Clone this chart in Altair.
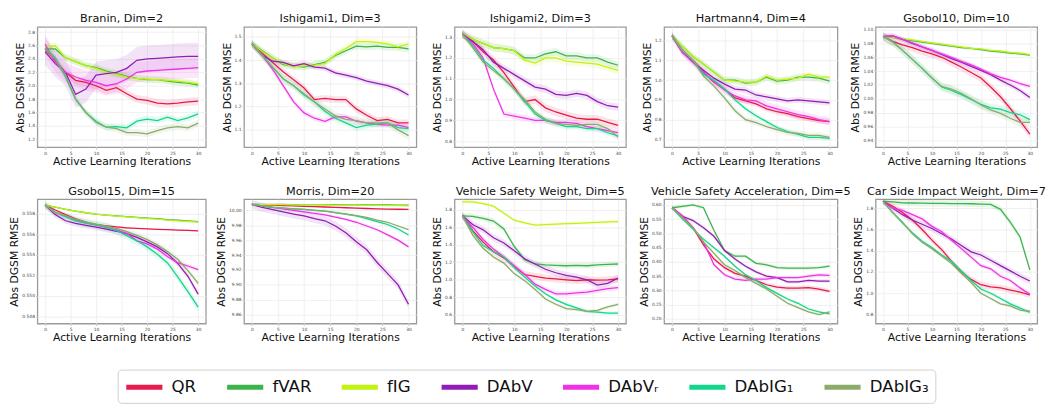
import altair as alt
import pandas as pd

METHODS = ["QR", "fVAR", "fIG", "DAbV", "DAbVᵣ", "DAbIG₁", "DAbIG₃"]
COLORS = ["#e8194b", "#3cb44b", "#c2f20f", "#911eb4", "#f032e6", "#12d68a", "#8aab6a"]
ITERS = list(range(0, 31, 2))
X_TICKS = [0, 5, 10, 15, 20, 25, 30]

# ---- Branin, Dim=2 ----
branin_qr = [2.55, 2.38, 2.2, 2.08, 2.05, 2.0, 1.93, 1.97, 1.88, 1.8, 1.78, 1.74, 1.73, 1.74, 1.76, 1.77]
branin_fvar = [2.55, 2.55, 2.42, 2.36, 2.3, 2.27, 2.22, 2.18, 2.14, 2.11, 2.09, 2.09, 2.07, 2.05, 2.04, 2.01]
branin_fig = [2.58, 2.6, 2.42, 2.36, 2.3, 2.26, 2.2, 2.17, 2.13, 2.11, 2.1, 2.09, 2.08, 2.07, 2.05, 2.03]
branin_dabv = [2.51, 2.33, 2.2, 1.87, 1.95, 2.16, 2.18, 2.2, 2.26, 2.38, 2.4, 2.41, 2.42, 2.43, 2.44, 2.44]
branin_dabvr = [2.62, 2.35, 2.2, 2.13, 2.08, 2.05, 2.0, 2.03, 2.1, 2.2, 2.22, 2.23, 2.24, 2.25, 2.26, 2.27]
branin_dabig1 = [2.56, 2.42, 2.15, 1.8, 1.6, 1.47, 1.38, 1.39, 1.37, 1.47, 1.5, 1.48, 1.53, 1.48, 1.52, 1.58]
branin_dabig3 = [2.56, 2.4, 2.13, 1.8, 1.6, 1.45, 1.38, 1.36, 1.3, 1.3, 1.28, 1.33, 1.37, 1.39, 1.37, 1.44]
branin_sd = [0.06, 0.05, 0.05, 0.2, 0.15, 0.05, 0.05]

# ---- Ishigami1, Dim=3 ----
ishi1_qr = [1.47, 1.43, 1.39, 1.35, 1.315, 1.28, 1.23, 1.235, 1.23, 1.23, 1.19, 1.163, 1.14, 1.145, 1.13, 1.13]
ishi1_fvar = [1.47, 1.44, 1.41, 1.38, 1.375, 1.37, 1.38, 1.39, 1.42, 1.44, 1.46, 1.457, 1.46, 1.455, 1.455, 1.448]
ishi1_fig = [1.47, 1.437, 1.41, 1.385, 1.372, 1.375, 1.378, 1.385, 1.424, 1.45, 1.479, 1.479, 1.476, 1.47, 1.457, 1.47]
ishi1_dabv = [1.47, 1.42, 1.395, 1.39, 1.375, 1.385, 1.37, 1.365, 1.345, 1.335, 1.325, 1.31, 1.3, 1.29, 1.275, 1.25]
ishi1_dabvr = [1.47, 1.42, 1.36, 1.29, 1.22, 1.173, 1.15, 1.137, 1.156, 1.156, 1.137, 1.13, 1.124, 1.12, 1.12, 1.11]
ishi1_dabig1 = [1.47, 1.42, 1.37, 1.32, 1.29, 1.25, 1.22, 1.18, 1.15, 1.13, 1.11, 1.12, 1.125, 1.13, 1.11, 1.105]
ishi1_dabig3 = [1.47, 1.42, 1.37, 1.32, 1.29, 1.255, 1.22, 1.19, 1.16, 1.145, 1.14, 1.13, 1.13, 1.13, 1.1, 1.075]
ishi1_sd = [0.015, 0.015, 0.015, 0.012, 0.012, 0.015, 0.018]

# ---- Ishigami2, Dim=3 ----
ishi2_qr = [1.315, 1.28, 1.23, 1.19, 1.13, 1.06, 0.99, 1.0, 0.96, 0.94, 0.925, 0.91, 0.905, 0.905, 0.89, 0.875]
ishi2_fvar = [1.315, 1.29, 1.27, 1.25, 1.245, 1.235, 1.2, 1.2, 1.22, 1.23, 1.21, 1.21, 1.2, 1.2, 1.18, 1.165]
ishi2_fig = [1.315, 1.29, 1.27, 1.25, 1.245, 1.235, 1.19, 1.175, 1.2, 1.2, 1.185, 1.18, 1.175, 1.17, 1.155, 1.14]
ishi2_dabv = [1.315, 1.28, 1.24, 1.18, 1.15, 1.12, 1.09, 1.06, 1.05, 1.025, 1.02, 1.03, 1.02, 0.99, 0.97, 0.963]
ishi2_dabvr = [1.315, 1.27, 1.2, 1.05, 0.93, 0.92, 0.91, 0.9, 0.9, 0.89, 0.89, 0.885, 0.87, 0.86, 0.85, 0.84]
ishi2_dabig1 = [1.315, 1.26, 1.19, 1.15, 1.1, 1.05, 0.99, 0.93, 0.9, 0.885, 0.87, 0.87, 0.86, 0.86, 0.84, 0.825]
ishi2_dabig3 = [1.315, 1.25, 1.18, 1.14, 1.1, 1.05, 1.0, 0.94, 0.905, 0.885, 0.88, 0.875, 0.88, 0.88, 0.86, 0.82]
ishi2_sd = [0.02, 0.018, 0.02, 0.018, 0.015, 0.015, 0.015]

# ---- Hartmann4, Dim=4 ----
hart_qr = [1.225, 1.14, 1.1, 1.04, 0.99, 0.955, 0.91, 0.895, 0.88, 0.855, 0.84, 0.83, 0.815, 0.805, 0.795, 0.79]
hart_fvar = [1.225, 1.17, 1.12, 1.08, 1.04, 1.0, 1.0, 0.985, 0.99, 1.015, 0.995, 1.0, 1.015, 1.015, 1.01, 0.995]
hart_fig = [1.225, 1.17, 1.12, 1.08, 1.04, 1.0, 0.995, 0.99, 0.99, 1.02, 1.0, 1.005, 1.01, 1.03, 1.015, 1.015]
hart_dabv = [1.225, 1.15, 1.09, 1.05, 1.01, 0.98, 0.955, 0.95, 0.925, 0.915, 0.905, 0.895, 0.9, 0.895, 0.89, 0.885]
hart_dabvr = [1.225, 1.14, 1.09, 1.04, 0.99, 0.95, 0.92, 0.9, 0.895, 0.87, 0.855, 0.84, 0.825, 0.815, 0.8, 0.79]
hart_dabig1 = [1.225, 1.15, 1.1, 1.03, 1.0, 0.955, 0.9, 0.855, 0.82, 0.79, 0.76, 0.74, 0.725, 0.71, 0.71, 0.705]
hart_dabig3 = [1.225, 1.15, 1.1, 1.02, 0.97, 0.91, 0.845, 0.8, 0.785, 0.765, 0.75, 0.735, 0.73, 0.72, 0.72, 0.71]
hart_sd = [0.015, 0.018, 0.015, 0.015, 0.02, 0.012, 0.015]

# ---- Gsobol10, Dim=10 ----
gs10_qr = [1.09, 1.083, 1.078, 1.074, 1.069, 1.065, 1.06, 1.053, 1.046, 1.038, 1.03, 1.017, 1.003, 0.986, 0.968, 0.949]
gs10_fvar = [1.09, 1.089, 1.086, 1.084, 1.082, 1.08, 1.078, 1.076, 1.074, 1.073, 1.071, 1.069, 1.068, 1.066, 1.065, 1.063]
gs10_fig = [1.09, 1.089, 1.087, 1.085, 1.083, 1.081, 1.079, 1.077, 1.075, 1.073, 1.072, 1.07, 1.069, 1.067, 1.066, 1.064]
gs10_dabv = [1.09, 1.091, 1.086, 1.08, 1.075, 1.07, 1.064, 1.058, 1.053, 1.047, 1.041, 1.035, 1.027, 1.02, 1.012, 1.002]
gs10_dabvr = [1.09, 1.091, 1.086, 1.081, 1.075, 1.07, 1.065, 1.06, 1.054, 1.049, 1.043, 1.036, 1.031, 1.027, 1.022, 1.018]
gs10_dabig1 = [1.09, 1.082, 1.07, 1.057, 1.044, 1.03, 1.017, 1.012, 1.006, 0.999, 0.992, 0.987, 0.985, 0.98, 0.977, 0.97]
gs10_dabig3 = [1.09, 1.082, 1.07, 1.057, 1.044, 1.03, 1.018, 1.014, 1.008, 1.0, 0.991, 0.984, 0.979, 0.972, 0.966, 0.966]
gs10_sd = [0.006, 0.002, 0.002, 0.004, 0.003, 0.006, 0.006]

# ---- Gsobol15, Dim=15 ----
gs15_qr = [0.55883, 0.55835, 0.5579, 0.55748, 0.55717, 0.55692, 0.5568, 0.5567, 0.55662, 0.55656, 0.55651, 0.55647, 0.55643, 0.55639, 0.55636, 0.55632]
gs15_fvar = [0.55883, 0.55862, 0.55842, 0.55823, 0.55808, 0.55794, 0.55784, 0.55777, 0.5577, 0.55763, 0.55756, 0.5575, 0.5574, 0.55735, 0.55728, 0.55721]
gs15_fig = [0.55883, 0.55862, 0.55842, 0.55823, 0.55808, 0.55794, 0.55784, 0.55776, 0.55768, 0.5576, 0.55752, 0.55745, 0.55736, 0.5573, 0.55723, 0.55716]
gs15_dabv = [0.55883, 0.5579, 0.5573, 0.55705, 0.55685, 0.55667, 0.55648, 0.55628, 0.55605, 0.55568, 0.55524, 0.55476, 0.5541, 0.55315, 0.5519, 0.55016]
gs15_dabvr = [0.55883, 0.5581, 0.55775, 0.5574, 0.5571, 0.55689, 0.55665, 0.55642, 0.55608, 0.55535, 0.55505, 0.55455, 0.5538, 0.55322, 0.5529, 0.55254]
gs15_dabig1 = [0.55883, 0.5581, 0.5577, 0.5573, 0.55708, 0.55689, 0.55668, 0.55635, 0.55585, 0.55535, 0.55476, 0.55405, 0.5532, 0.55185, 0.5504, 0.54889]
gs15_dabig3 = [0.55883, 0.5581, 0.5578, 0.55745, 0.55718, 0.55698, 0.55678, 0.55655, 0.55625, 0.55588, 0.55546, 0.55495, 0.5543, 0.55355, 0.55245, 0.5512]
gs15_sd = [0.00006, 0.00005, 0.00005, 0.0003, 0.0002, 0.0004, 0.0003]

# ---- Morris, Dim=20 ----
mor_qr = [10.008, 10.0075, 10.007, 10.0065, 10.006, 10.0055, 10.005, 10.0045, 10.004, 10.0035, 10.003, 10.0025, 10.002, 10.0018, 10.0015, 10.0012]
mor_fvar = [10.008, 10.008, 10.008, 10.0079, 10.0078, 10.0078, 10.0077, 10.0076, 10.0076, 10.0075, 10.0074, 10.0074, 10.0073, 10.0072, 10.0071, 10.007]
mor_fig = [10.008, 10.0078, 10.0077, 10.0076, 10.0075, 10.0074, 10.0073, 10.0072, 10.0071, 10.007, 10.0069, 10.0068, 10.0066, 10.0065, 10.0063, 10.006]
mor_dabv = [10.008, 10.004, 10.001, 9.998, 9.995, 9.9926, 9.989, 9.986, 9.979, 9.97, 9.958, 9.947, 9.93, 9.915, 9.9, 9.874]
mor_dabvr = [10.008, 10.006, 10.004, 10.002, 10.0, 9.998, 9.996, 9.994, 9.991, 9.988, 9.984, 9.979, 9.974, 9.967, 9.96, 9.951]
mor_dabig1 = [10.008, 10.006, 10.004, 10.003, 10.002, 10.0013, 10.0, 9.999, 9.997, 9.995, 9.9926, 9.989, 9.985, 9.981, 9.975, 9.967]
mor_dabig3 = [10.008, 10.006, 10.004, 10.003, 10.002, 10.0013, 10.0, 9.999, 9.997, 9.995, 9.993, 9.9905, 9.987, 9.984, 9.979, 9.974]
mor_sd = [0.0005, 0.0005, 0.0005, 0.006, 0.002, 0.002, 0.001]

# ---- Vehicle Safety Weight, Dim=5 ----
vsw_qr = [1.73, 1.56, 1.43, 1.32, 1.25, 1.15, 1.06, 1.04, 1.02, 1.01, 1.0, 0.99, 1.0, 0.995, 1.0, 1.01]
vsw_fvar = [1.73, 1.725, 1.7, 1.67, 1.58, 1.38, 1.23, 1.18, 1.17, 1.165, 1.16, 1.165, 1.16, 1.17, 1.175, 1.18]
vsw_fig = [1.89, 1.89, 1.87, 1.84, 1.76, 1.68, 1.65, 1.625, 1.63, 1.635, 1.64, 1.645, 1.65, 1.655, 1.66, 1.665]
vsw_dabv = [1.73, 1.63, 1.57, 1.48, 1.42, 1.33, 1.24, 1.18, 1.12, 1.08, 1.05, 1.03, 1.0, 0.94, 0.96, 1.02]
vsw_dabvr = [1.73, 1.6, 1.46, 1.35, 1.26, 1.16, 1.06, 0.95, 0.89, 0.84, 0.84, 0.85, 0.86, 0.88, 0.9, 0.91]
vsw_dabig1 = [1.73, 1.55, 1.39, 1.32, 1.26, 1.14, 1.03, 0.93, 0.84, 0.77, 0.72, 0.68, 0.64, 0.63, 0.62, 0.62]
vsw_dabig3 = [1.73, 1.51, 1.36, 1.26, 1.19, 1.07, 0.99, 0.89, 0.78, 0.72, 0.67, 0.66, 0.64, 0.65, 0.69, 0.72]
vsw_sd = [0.04, 0.03, 0.02, 0.04, 0.03, 0.02, 0.02]

# ---- Vehicle Safety Acceleration, Dim=5 (no fIG curve visible) ----
vsa_qr = [0.59, 0.56, 0.52, 0.46, 0.41, 0.38, 0.36, 0.35, 0.335, 0.32, 0.312, 0.308, 0.308, 0.31, 0.305, 0.297]
vsa_fvar = [0.59, 0.595, 0.6, 0.59, 0.51, 0.44, 0.42, 0.42, 0.395, 0.39, 0.38, 0.378, 0.378, 0.378, 0.38, 0.385]
vsa_fig = None
vsa_dabv = [0.59, 0.56, 0.545, 0.52, 0.49, 0.44, 0.41, 0.385, 0.365, 0.35, 0.345, 0.33, 0.33, 0.335, 0.333, 0.333]
vsa_dabvr = [0.59, 0.56, 0.52, 0.47, 0.39, 0.355, 0.34, 0.335, 0.34, 0.34, 0.345, 0.345, 0.345, 0.35, 0.355, 0.353]
vsa_dabig1 = [0.59, 0.55, 0.515, 0.48, 0.45, 0.42, 0.385, 0.355, 0.335, 0.31, 0.29, 0.27, 0.255, 0.235, 0.225, 0.218]
vsa_dabig3 = [0.59, 0.555, 0.52, 0.47, 0.43, 0.39, 0.37, 0.345, 0.325, 0.305, 0.28, 0.255, 0.24, 0.225, 0.215, 0.225]
vsa_sd = [0.008, 0.006, 0.006, 0.006, 0.006, 0.005, 0.005]

# ---- Car Side Impact Weight, Dim=7 (no fIG curve visible) ----
car_qr = [1.865, 1.82, 1.76, 1.69, 1.6, 1.5, 1.41, 1.3, 1.2, 1.13, 1.08, 1.06, 1.05, 1.03, 1.01, 0.985]
car_fvar = [1.865, 1.86, 1.852, 1.85, 1.848, 1.847, 1.846, 1.845, 1.845, 1.843, 1.84, 1.837, 1.79, 1.67, 1.53, 1.22]
car_fig = None
car_dabv = [1.865, 1.8, 1.74, 1.69, 1.65, 1.61, 1.56, 1.51, 1.45, 1.39, 1.36, 1.31, 1.26, 1.21, 1.16, 1.115]
car_dabvr = [1.865, 1.8, 1.78, 1.74, 1.7, 1.63, 1.58, 1.5, 1.42, 1.34, 1.26, 1.23, 1.16, 1.12, 1.05, 0.99]
car_dabig1 = [1.865, 1.76, 1.66, 1.57, 1.49, 1.43, 1.36, 1.3, 1.21, 1.12, 1.04, 1.0, 0.95, 0.9, 0.86, 0.82]
car_dabig3 = [1.865, 1.76, 1.67, 1.56, 1.48, 1.42, 1.35, 1.28, 1.19, 1.1, 1.0, 0.95, 0.9, 0.88, 0.84, 0.83]
car_sd = [0.03, 0.03, 0.03, 0.03, 0.02, 0.02, 0.015]

PANELS = [
    ("Branin, Dim=2", [branin_qr, branin_fvar, branin_fig, branin_dabv, branin_dabvr, branin_dabig1, branin_dabig3], branin_sd,
     [1.08, 2.88], [1.2, 1.4, 1.6, 1.8, 2.0, 2.2, 2.4, 2.6, 2.8], ".1f"),
    ("Ishigami1, Dim=3", [ishi1_qr, ishi1_fvar, ishi1_fig, ishi1_dabv, ishi1_dabvr, ishi1_dabig1, ishi1_dabig3], ishi1_sd,
     [1.025, 1.543], [1.1, 1.2, 1.3, 1.4, 1.5], ".1f"),
    ("Ishigami2, Dim=3", [ishi2_qr, ishi2_fvar, ishi2_fig, ishi2_dabv, ishi2_dabvr, ishi2_dabig1, ishi2_dabig3], ishi2_sd,
     [0.77, 1.35], [0.8, 0.9, 1.0, 1.1, 1.2, 1.3], ".1f"),
    ("Hartmann4, Dim=4", [hart_qr, hart_fvar, hart_fig, hart_dabv, hart_dabvr, hart_dabig1, hart_dabig3], hart_sd,
     [0.66, 1.27], [0.7, 0.8, 0.9, 1.0, 1.1, 1.2], ".1f"),
    ("Gsobol10, Dim=10", [gs10_qr, gs10_fvar, gs10_fig, gs10_dabv, gs10_dabvr, gs10_dabig1, gs10_dabig3], gs10_sd,
     [0.93, 1.104], [0.94, 0.96, 0.98, 1.0, 1.02, 1.04, 1.06, 1.08, 1.1], ".2f"),
    ("Gsobol15, Dim=15", [gs15_qr, gs15_fvar, gs15_fig, gs15_dabv, gs15_dabvr, gs15_dabig1, gs15_dabig3], gs15_sd,
     [0.5473, 0.5594], [0.548, 0.55, 0.552, 0.554, 0.556, 0.558], ".3f"),
    ("Morris, Dim=20", [mor_qr, mor_fvar, mor_fig, mor_dabv, mor_dabvr, mor_dabig1, mor_dabig3], mor_sd,
     [9.848, 10.015], [9.86, 9.88, 9.9, 9.92, 9.94, 9.96, 9.98, 10.0], ".2f"),
    ("Vehicle Safety Weight, Dim=5", [vsw_qr, vsw_fvar, vsw_fig, vsw_dabv, vsw_dabvr, vsw_dabig1, vsw_dabig3], vsw_sd,
     [0.5, 1.92], [0.6, 0.8, 1.0, 1.2, 1.4, 1.6, 1.8], ".1f"),
    ("Vehicle Safety Acceleration, Dim=5", [vsa_qr, vsa_fvar, vsa_fig, vsa_dabv, vsa_dabvr, vsa_dabig1, vsa_dabig3], vsa_sd,
     [0.184, 0.62], [0.2, 0.25, 0.3, 0.35, 0.4, 0.45, 0.5, 0.55, 0.6], ".2f"),
    ("Car Side Impact Weight, Dim=7", [car_qr, car_fvar, car_fig, car_dabv, car_dabvr, car_dabig1, car_dabig3], car_sd,
     [0.714, 1.886], [0.8, 1.0, 1.2, 1.4, 1.6, 1.8], ".1f"),
]

WIDTHS = [172, 176, 175, 177, 165]
HEIGHTS = [123, 127]
FONT = "DejaVu Sans"

LEGEND = alt.Legend(
    orient="none", legendX=82, legendY=350, direction="horizontal", columns=7,
    title=None, symbolType="M-1,0H3", symbolStrokeWidth=5, symbolSize=340,
    symbolOpacity=1, labelFontSize=17, labelFont=FONT, labelColor="#111",
    labelOffset=25, columnPadding=20, padding=6, strokeColor="#cfcfcf",
    cornerRadius=4, fillColor="white", labelLimit=300,
)


def make_panel(idx):
    title, series, sds, ydom, yticks, yfmt = PANELS[idx]
    rows = []
    for m, vals, sd in zip(METHODS, series, sds):
        if vals is None:
            continue
        for it, v in zip(ITERS, vals):
            rows.append({"method": m, "it": it, "y": v, "lo": v - sd, "hi": v + sd})
    df = pd.DataFrame(rows)
    xenc = alt.X("it:Q", scale=alt.Scale(domain=[-1.5, 31.5], nice=False, zero=False),
                 axis=alt.Axis(values=X_TICKS, format="d", title="Active Learning Iterations"))
    yscale = alt.Scale(domain=ydom, nice=False, zero=False)
    yaxis = alt.Axis(values=yticks, format=yfmt, title="Abs DGSM RMSE")
    color = alt.Color("method:N", scale=alt.Scale(domain=METHODS, range=COLORS), legend=LEGEND)
    base = alt.Chart(df)
    band = base.mark_area(opacity=0.12, clip=True).encode(
        x=xenc, y=alt.Y("lo:Q", scale=yscale, axis=yaxis), y2="hi:Q", color=color)
    line = base.mark_line(strokeWidth=1.3, clip=True).encode(
        x=xenc, y=alt.Y("y:Q", scale=yscale, axis=yaxis), color=color)
    return alt.layer(band, line).properties(
        title=alt.TitleParams(title, fontSize=11.5, fontWeight=400, font=FONT, offset=2, color="#111"),
        width=WIDTHS[idx % 5], height=HEIGHTS[idx // 5])


row1 = alt.hconcat(*[make_panel(i) for i in range(5)], spacing=39, bounds="flush")
row2 = alt.hconcat(*[make_panel(i) for i in range(5, 10)], spacing=39, bounds="flush")

chart = alt.vconcat(row1, row2, spacing=17).properties(
    padding={"left": 0, "top": 0, "right": 0, "bottom": 0}
).configure_view(
    stroke="#9a9a9a", strokeWidth=1.3
).configure_axis(
    grid=True, gridColor="#ececec", gridWidth=0.8, domain=False,
    tickSize=2, tickColor="#c8c8c8", labelFontSize=4.5, labelColor="#444",
    labelFont=FONT, titleFont=FONT, titleFontSize=11, titleFontWeight=400,
    titleColor="#111", labelPadding=1,
).configure_axisY(titlePadding=2).configure_axisX(titlePadding=1)

chart.save("out.html", embed_options={"renderer": "svg", "actions": False})
